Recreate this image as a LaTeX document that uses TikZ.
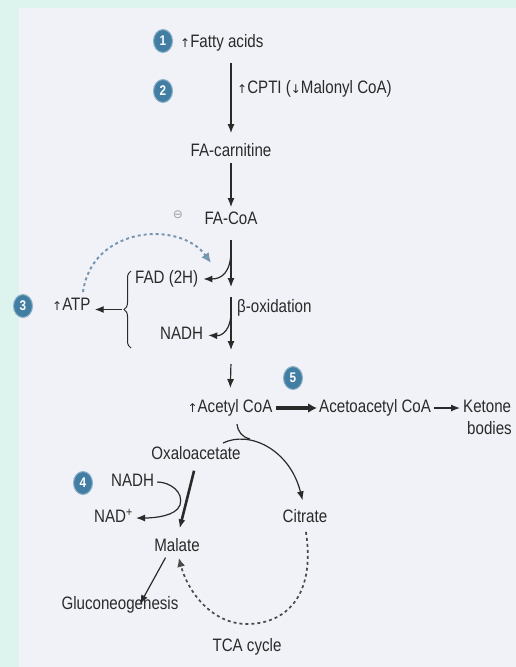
\documentclass[tikz,border=0pt]{standalone}
\usepackage{fontspec}
\setmainfont[FakeStretch=0.84]{Liberation Sans}
\newfontfamily\symfont{DejaVu Sans}
\usetikzlibrary{arrows.meta,decorations.pathreplacing,shapes.geometric,positioning}
\definecolor{cyanbg}{RGB}{221,244,238}
\definecolor{paper}{RGB}{241,242,247}
\definecolor{ink}{RGB}{42,42,42}
\definecolor{stepblue}{RGB}{66,126,163}
\definecolor{dashblue}{RGB}{118,148,175}
\newcommand{\upa}{{\symfont\fontsize{12}{12}\selectfont\char"2191}}
\newcommand{\downa}{{\symfont\fontsize{12}{12}\selectfont\char"2193}}

\begin{document}
\begin{tikzpicture}[x=1pt,y=-1pt,
	txt/.style={inner sep=0pt,text height=12.5pt,text depth=3pt,text=ink,font=\fontsize{18}{20}\selectfont},
	num/.style={ellipse,fill=stepblue,draw=stepblue!60!white,line width=1pt,text=white,inner sep=0pt,minimum width=19pt,minimum height=23pt,font=\fontsize{14}{14}\selectfont\bfseries},
	flow/.style={-{Latex[length=9pt,width=7pt]},draw=ink,line width=1.2pt},
	heavy/.style={flow,line width=3.2pt,-{Latex[length=9pt,width=10pt]}},
	dashflow/.style={draw=dashblue,line width=1.9pt,dash pattern=on 3pt off 3pt,-{Latex[length=10pt,width=9pt,fill=dashblue!70!cyan]}},
	cycle/.style={draw=ink!85,line width=1.7pt,dash pattern=on 3pt off 3pt,-{Latex[length=9pt,width=8pt]}}]
	\fill[cyanbg] (0,0) rectangle (516,667);
	\fill[paper] (19,8) rectangle (516,667);
	\useasboundingbox (0,0) rectangle (516,667);

	% fatty acids down to beta-oxidation
	\node[num] (n1) at (163,41) {1};
	\node[txt,anchor=west] (fatty) at (180,43) {\upa Fatty acids};
	\node[num] (n2) at (163,91) {2};
	\node[txt,anchor=west] (cpt) at (237,89) {\upa CPTI (\downa Malonyl CoA)};
	\node[txt] (facarn) at (231,152) {FA-carnitine};
	\node[txt] (facoa) at (231,220) {FA-CoA};
	\node[txt,text=ink!45] (minus) at (178,214) {\symfont\fontsize{12}{12}\selectfont\char"2296};
	\node[txt,anchor=west] (fad) at (135,279) {FAD (2H)};
	\node[txt,anchor=west] (boxid) at (237,308) {β-oxidation};
	\node[txt,anchor=west] (nadha) at (160,335) {NADH};
	\node[num] (n3) at (23,306) {3};
	\node[txt,anchor=west] (atp) at (52,306) {\upa ATP};
	\coordinate (f1) at (231,250);
	\coordinate (b1) at (231,287);
	\coordinate (b2) at (231,297);
	\coordinate (b3) at (231,350);
	\coordinate (b4) at (231,362);
	\coordinate (p1) at (231,312);
	\coordinate (br) at (122,309.5);
	\coordinate (d0) at (83,292);
	\draw[flow,shorten <=12pt,shorten >=11pt] (fatty.south -| facarn) -- (facarn.north);
	\draw[flow,shorten <=3pt,shorten >=5pt] (facarn) -- (facoa);
	\draw[flow,shorten <=12pt] (facoa.south) -- (b1);
	\draw[flow] (b2) -- (b3);
	\draw[flow,shorten >=5pt] (f1) .. controls (231,272) and (222,279) .. (fad.east);
	\draw[flow,shorten >=5pt] (p1) .. controls (231,330) and (222,336) .. (nadha.east);
	\draw[draw=ink,line width=1pt,decorate,decoration={brace,amplitude=7pt}] (131,348) -- (131,271);
	\draw[flow,shorten >=4pt] (br) -- (atp.east |- br);
	\draw[dashflow] (d0) .. controls (92,226) and (180,220) .. (211,263);

	% ketone bodies and TCA cycle
	\node[txt] (acetyl) at (230,408) {\upa Acetyl CoA};
	\node[num] (n5) at (293,378) {5};
	\node[txt,anchor=west] (acac) at (319,408) {Acetoacetyl CoA};
	\node[txt,anchor=west] (ketone) at (463,408) {Ketone};
	\node[txt,anchor=west,text height=12pt,text depth=0pt] (bodies) at (467,428) {bodies};
	\node[txt] (oxa) at (196,455) {Oxaloacetate};
	\node[num] (n4) at (83,483) {4};
	\node[txt,anchor=west] (nadhb) at (111,482) {NADH};
	\node[txt,anchor=west] (nad) at (94,518) {NAD\textsuperscript{+}};
	\node[txt] (citrate) at (305,518) {Citrate};
	\node[txt] (malate) at (177,547) {Malate};
	\node[txt] (gluco) at (120,605) {Gluconeogenesis};
	\node[txt] (tca) at (247,647) {TCA cycle};
	\coordinate (a1) at (237,424);
	\coordinate (m1) at (250,439);
	\coordinate (o1) at (223,443);
	\draw[flow,shorten <=2pt,shorten >=12pt] (b4) -- (acetyl.north);
	\draw[heavy,shorten <=3pt,shorten >=2pt] (acetyl.east) -- (acac.west);
	\draw[flow,shorten <=3pt,shorten >=3pt] (acac.east) -- (ketone.west);
	\draw[draw=ink,line width=1.2pt] (a1) .. controls (238,432) and (242,437) .. (m1);
	\draw[flow,line width=1.2pt,shorten >=10pt] (o1) .. controls (250,430) and (290,450) .. (citrate.north);
	\draw[flow,line width=2.6pt,shorten <=8pt,shorten >=11pt] (oxa.south) -- (malate.north);
	\draw[flow,shorten <=3pt,shorten >=3pt] (nadhb.east) .. controls (170,482) and (184,492) .. (180,505) .. controls (176,516) and (155,518) .. (nad.east);
	\draw[flow,shorten <=3pt] ([xshift=-10pt]malate.south) -- ([xshift=20pt,yshift=-7pt]gluco.north);
	\draw[cycle,shorten <=6pt,shorten >=3pt] (citrate.south) .. controls (316,598) and (284,624) .. (247,624) .. controls (212,624) and (188,592) .. ([xshift=1pt]malate.south);
\end{tikzpicture}
\end{document}
